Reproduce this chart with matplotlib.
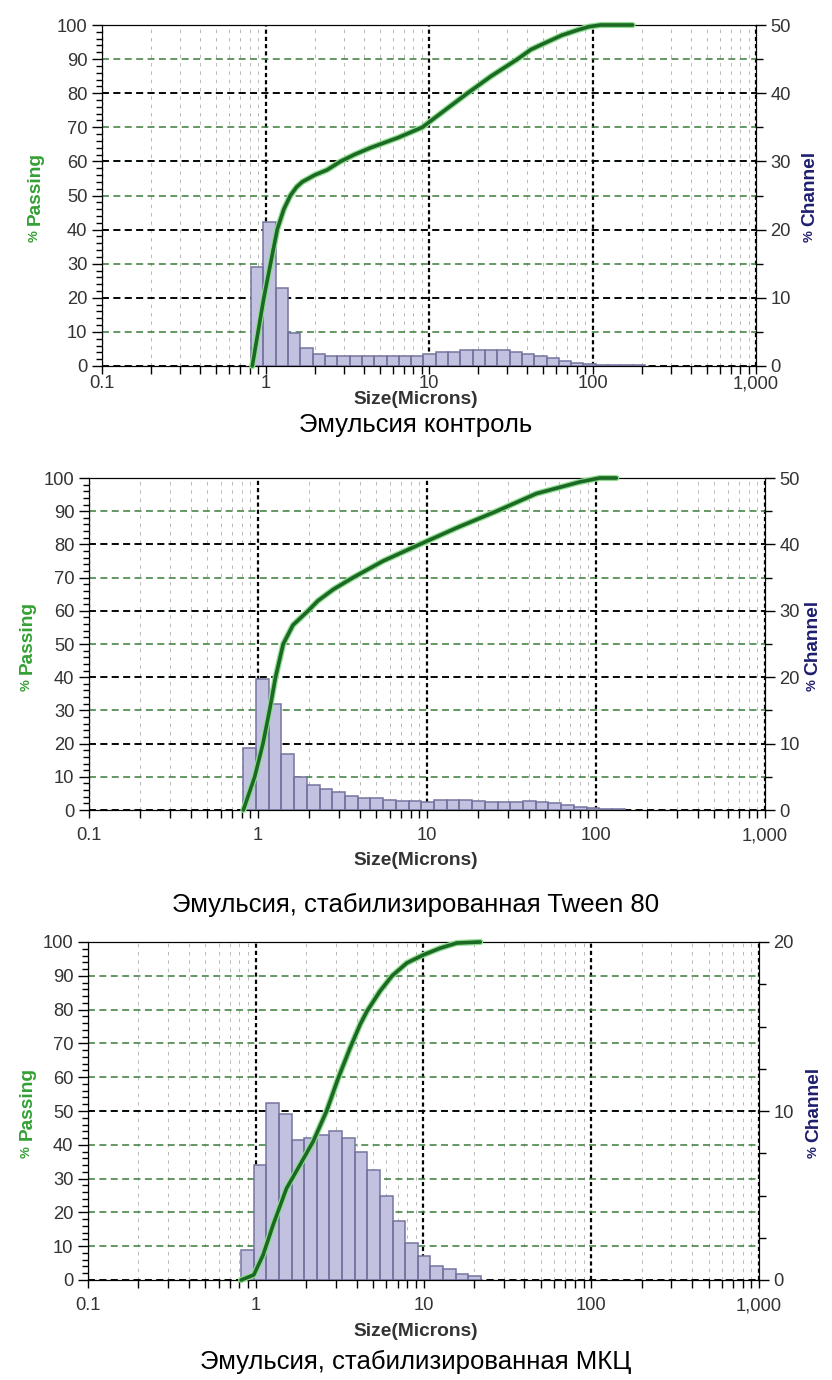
import numpy as np
import matplotlib
matplotlib.use("Agg")
import matplotlib.pyplot as plt
from matplotlib.ticker import MultipleLocator, LogLocator, NullFormatter

plt.rcParams['font.family'] = ['Liberation Sans', 'DejaVu Sans']
plt.rcParams['hatch.linewidth'] = 0.5
plt.rcParams['lines.scale_dashes'] = False

# ----------------------------
# Data
# ----------------------------
# channel edges of the analyser, microns
edges = [0.818, 0.972, 1.156, 1.375, 1.635, 1.945, 2.312, 2.75, 3.27, 3.89,
         4.62, 5.5, 6.54, 7.78, 9.25, 11.0, 13.08, 15.56, 18.5, 22.0,
         26.16, 31.11, 37.0, 44.0, 52.33, 62.23, 74.0, 88.0, 104.7, 124.5,
         148.0, 176.0, 209.3]

xtick_vals = [0.1, 1, 10, 100, 1000]
xtick_labels = ["0.1", "1", "10", "100", "1,000"]

# panel 1 - control
ctrl_channel = [14.5, 21.1, 11.5, 4.9, 2.7, 1.8, 1.45, 1.45, 1.45, 1.45, 1.45,
                1.45, 1.45, 1.45, 1.8, 2.0, 2.0, 2.4, 2.4, 2.4, 2.4, 2.0, 1.8,
                1.4, 1.2, 0.8, 0.5, 0.3, 0.1, 0.1, 0.1, 0.1]
ctrl_size = [0.83, 0.977, 1.073, 1.179, 1.295, 1.42, 1.55, 1.68, 2.0, 2.38,
             2.88, 3.5, 4.39, 6.5, 9.1, 12.5, 17.2, 24, 34.8, 42, 52.7, 65,
             80.8, 95, 112, 176]
ctrl_pass = [0, 20, 30, 40, 46, 50, 52.5, 54, 56, 57.5, 60, 62, 64, 67, 70,
             75, 80, 85, 90, 92.8, 95, 97, 98.5, 99.5, 100, 100]

# panel 2 - Tween 80
tween_channel = [9.4, 19.8, 16.0, 8.5, 5.0, 3.7, 3.1, 2.7, 2.15, 1.75, 1.75,
                 1.55, 1.4, 1.4, 1.25, 1.55, 1.55, 1.55, 1.4, 1.25, 1.25, 1.25,
                 1.4, 1.15, 1.0, 0.8, 0.5, 0.35, 0.2, 0.1]
tween_size = [0.819, 0.956, 1.07, 1.17, 1.27, 1.41, 1.61, 1.98, 2.26, 2.8,
              3.65, 5.5, 9.05, 15, 25.8, 44.4, 80, 105, 132]
tween_pass = [0, 10, 20, 30, 40, 50, 55.7, 60, 63, 66.5, 70, 75, 80, 85, 90,
              95.3, 98.8, 100, 100]

# panel 3 - MCC
mcc_channel = [1.78, 6.8, 10.5, 9.8, 8.3, 8.4, 8.6, 8.8, 8.4, 7.6, 6.5, 5.0,
               3.5, 2.2, 1.4, 0.83, 0.63, 0.36, 0.26]
mcc_size = [0.817, 0.973, 1.106, 1.269, 1.525, 1.832, 2.2, 2.645, 3.1, 3.64,
            4.18, 4.6, 5.51, 6.5, 7.96, 10, 12.6, 15.8, 21.8]
mcc_pass = [0, 1.5, 7.4, 16.3, 27.1, 34, 41, 50, 59.7, 68.5, 75.5, 79.5,
            85.5, 90, 93.8, 96.2, 98.2, 99.7, 100]

W, H = 832, 1380
fig = plt.figure(figsize=(W / 100, H / 100), dpi=100)
fig.patch.set_facecolor("white")

TICK_COLOR = "#333333"


def fx(x):
    return x / W


def fy(y):
    return 1 - y / H


def panel(box, channel, ch_max, ch_minor, size, passing, caption,
          pass_x, chan_x, xpad, size_y, cap_y):
    left, top, right, bottom = box
    ax = fig.add_axes([fx(left), fy(bottom), (right - left) / W, (bottom - top) / H])
    ax.set_xscale("log")
    ax.set_xlim(0.1, 1000)
    ax.set_ylim(0, 100)
    ax.set_xticks(xtick_vals, xtick_labels)
    ax.xaxis.set_minor_locator(LogLocator(base=10, subs=np.arange(2, 10)))
    ax.xaxis.set_minor_formatter(NullFormatter())
    ax.set_yticks(range(0, 101, 10))
    ax.yaxis.set_minor_locator(MultipleLocator(2))
    ax.tick_params(which="major", direction="out", length=7, width=1,
                   labelsize=13.2, labelcolor=TICK_COLOR)
    ax.tick_params(axis="x", which="major", pad=xpad, length=6)
    ax.tick_params(axis="y", which="minor", direction="out", length=4, width=1)
    ax.tick_params(axis="x", which="minor", direction="out", length=6, width=1)
    ax.grid(axis="y", which="major", color="#3b7c3b", linestyle=(0, (5, 3.2)), lw=1.1)
    ax.grid(axis="x", which="major", color="black", linestyle=(0, (3, 2.2)), lw=1.6)
    ax.grid(axis="x", which="minor", color="#b8b8b8", linestyle=(0, (2.5, 3.5)), lw=0.7)
    ax.set_axisbelow(True)

    # channel histogram
    ax2 = ax.twinx()
    ax2.set_ylim(0, ch_max)
    ax2.set_yticks(range(0, ch_max + 1, 10))
    ax2.yaxis.set_minor_locator(MultipleLocator(ch_minor))
    ax2.tick_params(which="major", direction="out", length=7, width=1,
                    labelsize=13.2, labelcolor=TICK_COLOR)
    ax2.tick_params(which="minor", direction="out", length=5, width=1)
    ax2.grid(axis="y", which="major", color="black", linestyle=(0, (5, 3.2)), lw=1.3)
    ax2.set_axisbelow(True)
    e = edges[:len(channel) + 1]
    ax2.bar(e[:-1], channel, width=np.diff(e), align="edge",
            facecolor="#eeeef7", edgecolor="#c2c2e0", hatch="x" * 24, linewidth=0)
    ax2.bar(e[:-1], channel, width=np.diff(e), align="edge",
            fill=False, edgecolor="#74749f", linewidth=1.1)

    # cumulative curve
    ax3 = ax.twinx()
    ax3.set_ylim(0, 100)
    ax3.axis("off")
    ax3.plot(size, passing, color="#8ede8e", lw=4.4, clip_on=False,
             solid_capstyle="round")
    ax3.plot(size, passing, color="#1c6825", lw=2.6, clip_on=False,
             solid_capstyle="round")

    yc = (top + bottom) / 2
    fig.text(fx(pass_x), fy(yc - 7), "Passing", rotation=90, ha="center",
             va="center", fontsize=13.8, fontweight="bold", color="#34a034")
    fig.text(fx(pass_x), fy(yc + 41), "%", rotation=90, ha="center",
             va="center", fontsize=9.5, fontweight="bold", color="#34a034")
    fig.text(fx(chan_x), fy(yc - 7), "Channel", rotation=90, ha="center",
             va="center", fontsize=13.8, fontweight="bold", color="#1e1e6e")
    fig.text(fx(chan_x), fy(yc + 41), "%", rotation=90, ha="center",
             va="center", fontsize=9.5, fontweight="bold", color="#1e1e6e")
    fig.text(fx(416), fy(size_y), "Size(Microns)", ha="center", va="center",
             fontsize=13.8, fontweight="bold", color="#333333")
    fig.text(fx(416), fy(cap_y), caption, ha="center", va="center",
             fontsize=18.5, color="black")


panel((102, 25, 756, 366), ctrl_channel, 50, 5, ctrl_size, ctrl_pass,
      "Эмульсия контроль", 35, 810, 0.5, 399, 425)
panel((89, 478, 765, 810), tween_channel, 50, 5, tween_size, tween_pass,
      "Эмульсия, стабилизированная Tween 80", 27, 813, 6.5, 861, 905)
panel((88, 942, 759, 1280), mcc_channel, 20, 2.5, mcc_size, mcc_pass,
      "Эмульсия, стабилизированная МКЦ", 27, 814, 6.5, 1332, 1362)

plt.savefig("out.png", dpi=100, facecolor="white")
